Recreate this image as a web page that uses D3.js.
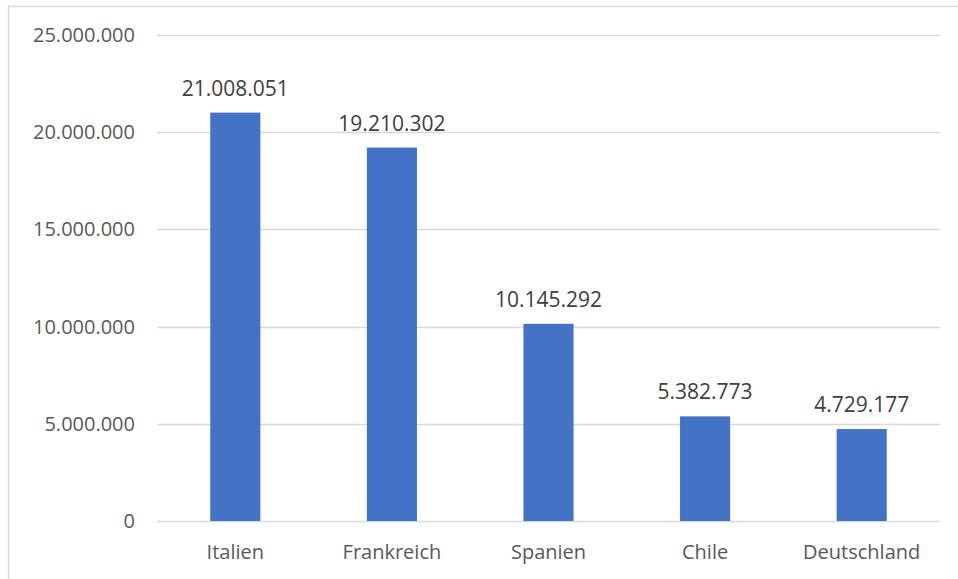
<!DOCTYPE html>
<html>
<head>
<meta charset="utf-8">
<script src="https://cdn.jsdelivr.net/npm/d3@7"></script>
<style>
  html, body { margin: 0; padding: 0; background: #fff; }
  svg { display: block; font-family: "Open Sans", "Noto Sans", sans-serif; }
</style>
</head>
<body>
<svg id="chart" width="958" height="579"></svg>
<script>
// Countries and their values
const categories = ["Italien", "Frankreich", "Spanien", "Chile", "Deutschland"];
const values = [21008051, 19210302, 10145292, 5382773, 4729177];
const yTicks = [0, 5000000, 10000000, 15000000, 20000000, 25000000];

const de = d3.formatLocale({ decimal: ",", thousands: ".", grouping: [3], currency: ["", " €"] });
const fmt = de.format(",d");

const svg = d3.select("#chart");
const W = 958, H = 579;
const plot = { left: 157, right: 940, top: 35, bottom: 521 };

// outer chart frame (runs off the right and bottom edges)
svg.append("rect")
  .attr("x", 8.5).attr("y", 6.5)
  .attr("width", W + 20).attr("height", H + 20)
  .attr("fill", "none")
  .attr("stroke", "#d9d9d9")
  .attr("stroke-width", 1.5);

const x = d3.scaleBand()
  .domain(categories)
  .range([plot.left, plot.right])
  .paddingInner(0.68)
  .paddingOuter(0.34);

const y = d3.scaleLinear()
  .domain([0, 25000000])
  .range([plot.bottom, plot.top]);

// horizontal gridlines
svg.append("g")
  .selectAll("line")
  .data(yTicks)
  .join("line")
  .attr("x1", plot.left).attr("x2", plot.right)
  .attr("y1", d => Math.round(y(d)) + 0.5)
  .attr("y2", d => Math.round(y(d)) + 0.5)
  .attr("stroke", "#d9d9d9")
  .attr("stroke-width", 1.5);

// y axis labels
const yAxis = svg.append("g")
  .attr("transform", `translate(${plot.left - 22},0)`)
  .call(d3.axisLeft(y).tickValues(yTicks).tickFormat(fmt).tickSize(0).tickPadding(0));
yAxis.select(".domain").remove();
yAxis.selectAll("text")
  .attr("font-family", "Open Sans, Noto Sans, sans-serif")
  .attr("font-size", 20)
  .attr("fill", "#595959");

// bars
const data = categories.map((c, i) => ({ c, v: values[i] }));
svg.append("g")
  .selectAll("rect")
  .data(data)
  .join("rect")
  .attr("x", d => x(d.c))
  .attr("width", x.bandwidth())
  .attr("y", d => y(d.v))
  .attr("height", d => y(0) - y(d.v))
  .attr("fill", "#4472c4");

// value labels
svg.append("g")
  .selectAll("text")
  .data(data)
  .join("text")
  .attr("x", d => x(d.c) + x.bandwidth() / 2)
  .attr("y", d => y(d.v) - 17)
  .attr("text-anchor", "middle")
  .attr("font-size", 21)
  .attr("fill", "#404040")
  .text(d => fmt(d.v));

// category axis labels
const xAxis = svg.append("g")
  .attr("transform", `translate(0,${plot.bottom})`)
  .call(d3.axisBottom(x).tickSize(0).tickPadding(0));
xAxis.select(".domain").remove();
xAxis.selectAll("text")
  .attr("font-family", "Open Sans, Noto Sans, sans-serif")
  .attr("font-size", 20)
  .attr("fill", "#595959")
  .attr("dy", null)
  .attr("y", 38);
</script>
</body>
</html>
